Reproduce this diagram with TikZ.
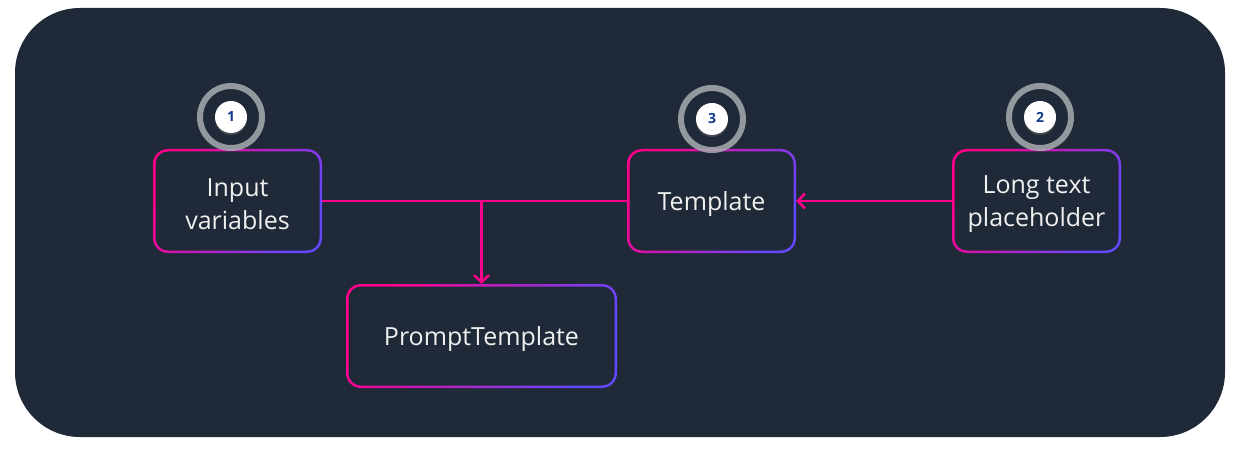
\documentclass[tikz,border=0pt]{standalone}
\usepackage{fontspec}
\setmainfont{Open Sans}
\usetikzlibrary{arrows.meta,shadows}
\definecolor{bg}{RGB}{32,41,55}
\definecolor{pinkc}{RGB}{255,0,140}
\definecolor{purc}{RGB}{100,72,255}
\definecolor{txt}{RGB}{240,240,240}
\definecolor{ringc}{RGB}{168,172,178}
\definecolor{numc}{RGB}{18,58,140}
\tikzset{
  box/.style={minimum height=104pt, inner sep=0pt},
  boxtext/.style={inner sep=0pt, align=center, text=txt, font=\fontsize{25}{33}\selectfont},
  conn/.style={draw=pinkc, line width=2.5pt},
  tip/.style={-{Straight Barb[length=7pt,width=15pt,line width=2.5pt]}},
  ringnode/.style={circle, minimum size=62pt, inner sep=0pt, draw=ringc, line width=6pt, draw opacity=0.85},
  badge/.style={circle, minimum size=32pt, inner sep=0pt, fill=white, text=numc,
    font=\fontsize{14}{14}\selectfont\bfseries,
    drop shadow={shadow xshift=0pt, shadow yshift=-2pt, opacity=0.35}}
}
% #1 name, #2 x, #3 y, #4 width, #5 text
\newcommand\gradbox[5]{%
  \shade[left color=pinkc, right color=purc, shading angle=60, rounded corners=15pt]
    (#2-#4/2,#3-52) rectangle (#2+#4/2,#3+52);
  \fill[bg, rounded corners=12.5pt]
    (#2-#4/2+2.5,#3-52+2.5) rectangle (#2+#4/2-2.5,#3+52-2.5);
  \node[box, minimum width=#4pt] (#1) at (#2,#3) {};
  \node[boxtext] (#1-t) at (#2,#3+3) {#5};%
}
\begin{document}
\begin{tikzpicture}[x=1pt,y=-1pt]
\fill[white] (0,0) rectangle (1238,449);
\useasboundingbox (0,0) rectangle (1238,449);
\fill[bg, rounded corners=65pt] (15,8) rectangle (1225,437);

\gradbox{iv}{237.5}{201}{169}{Input\\variables}
\gradbox{tp}{711.5}{201}{169}{Template}
\gradbox{lt}{1036.5}{201}{169}{Long text\\placeholder}
\gradbox{pt}{481.5}{336}{271}{PromptTemplate}

\draw[conn] (iv.east) -- (tp.west);
\coordinate (br) at (iv.east -| pt.north);
\draw[conn, tip] (br) -- (pt.north);
\draw[conn, tip] (lt.west) -- (tp.east);

\node[ringnode] (r1) at (231,117) {};
\node[badge] (b1) at (231,117) {1};
\node[ringnode] (r3) at (712,119) {};
\node[badge] (b3) at (712,119) {3};
\node[ringnode] (r2) at (1040,117) {};
\node[badge] (b2) at (1040,117) {2};
\end{tikzpicture}
\end{document}
